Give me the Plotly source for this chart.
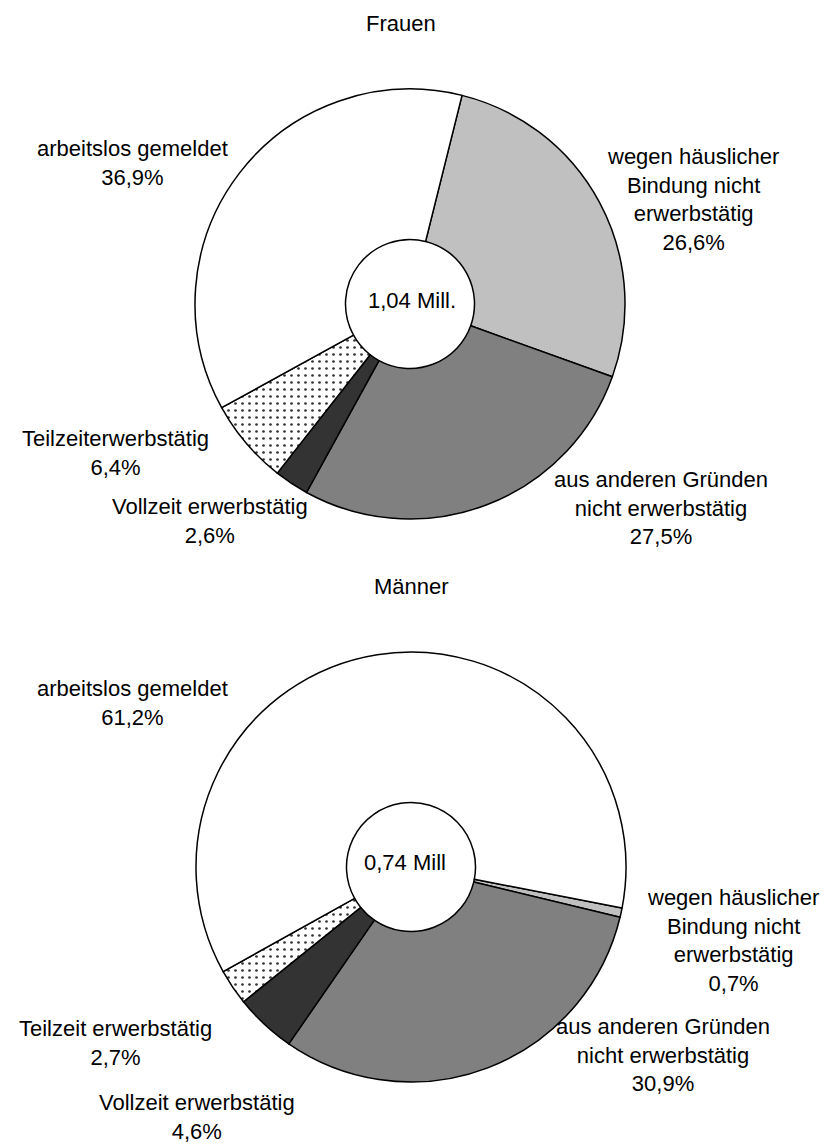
import plotly.graph_objects as go

W, H = 831, 1146
OFFSET = 8  # page body margin: figure origin lands at (8, 8) in the window

# slice order = clockwise from the start angle
CATEGORIES = [
    "wegen häuslicher Bindung nicht erwerbstätig",
    "aus anderen Gründen nicht erwerbstätig",
    "Vollzeit erwerbstätig",
    "Teilzeit erwerbstätig",
    "arbeitslos gemeldet",
]
FRAUEN_VALUES = [26.6, 27.5, 2.6, 6.4, 36.9]
MAENNER_VALUES = [0.7, 30.9, 4.6, 2.7, 61.2]
FRAUEN_TEXT = [
    "wegen häuslicher<br>Bindung nicht<br>erwerbstätig",
    "aus anderen Gründen<br>nicht erwerbstätig",
    "Vollzeit erwerbstätig",
    "Teilzeiterwerbstätig",
    "arbeitslos gemeldet",
]
MAENNER_TEXT = [
    "wegen häuslicher<br>Bindung nicht<br>erwerbstätig",
    "aus anderen Gründen<br>nicht erwerbstätig",
    "Vollzeit erwerbstätig",
    "Teilzeit erwerbstätig",
    "arbeitslos gemeldet",
]
FRAUEN_TOTAL = "1,04 Mill."
MAENNER_TOTAL = "0,74 Mill"

COLORS = ["#c0c0c0", "#808080", "#333333", "#ffffff", "#ffffff"]
PATTERN = ["", "", "", ".", ""]
FONT = "Liberation Sans, Arial, sans-serif"


def pct(v):
    return f"{v:.1f}".replace(".", ",") + "%"


def px(x, y):
    # window pixel -> paper fraction
    return (x - OFFSET) / W, 1 - (y - OFFSET) / H


def pie(values, cx, cy, r, rotation):
    x0, y1 = px(cx - r, cy - r)
    x1, y0 = px(cx + r, cy + r)
    return go.Pie(
        labels=CATEGORIES, values=values, sort=False, direction="clockwise",
        rotation=rotation, hole=0.3, textinfo="none", hoverinfo="label+percent",
        domain=dict(x=[x0, x1], y=[y0, y1]), showlegend=False,
        marker=dict(
            colors=COLORS,
            line=dict(color="black", width=1.5),
            pattern=dict(shape=PATTERN, fgcolor="#333333", size=7, solidity=0.12),
        ),
    )


fig = go.Figure()
fig.add_trace(pie(FRAUEN_VALUES, 410, 304, 215, 14))
fig.add_trace(pie(MAENNER_VALUES, 411, 867, 215, 101))

annotations = []


def note(text, x, y, size=22):
    ax, ay = px(x, y)
    annotations.append(dict(
        text=text, x=ax, y=ay, xref="paper", yref="paper", showarrow=False,
        xanchor="center", yanchor="middle", align="center",
        font=dict(size=size, color="black", family=FONT),
    ))


# label positions (window pixel centres) for each slice
frauen_pos = [(693, 200), (661, 508), (210, 521), (115, 453), (132, 163)]
maenner_pos = [(733, 940), (663, 1055), (197, 1117), (115, 1043), (132, 703)]

for txt, v, (x, y) in zip(FRAUEN_TEXT, FRAUEN_VALUES, frauen_pos):
    note(f"{txt}<br>{pct(v)}", x, y)
for txt, v, (x, y) in zip(MAENNER_TEXT, MAENNER_VALUES, maenner_pos):
    note(f"{txt}<br>{pct(v)}", x, y)

note("Frauen", 401, 24)
note("Männer", 411, 587)
note(FRAUEN_TOTAL, 412, 300)
note(MAENNER_TOTAL, 405, 862)

fig.update_layout(
    width=W, height=H,
    margin=dict(l=0, r=0, t=0, b=0),
    paper_bgcolor="white", plot_bgcolor="white",
    font=dict(family=FONT, color="black"),
    annotations=annotations,
)

fig.write_html("out.html")
